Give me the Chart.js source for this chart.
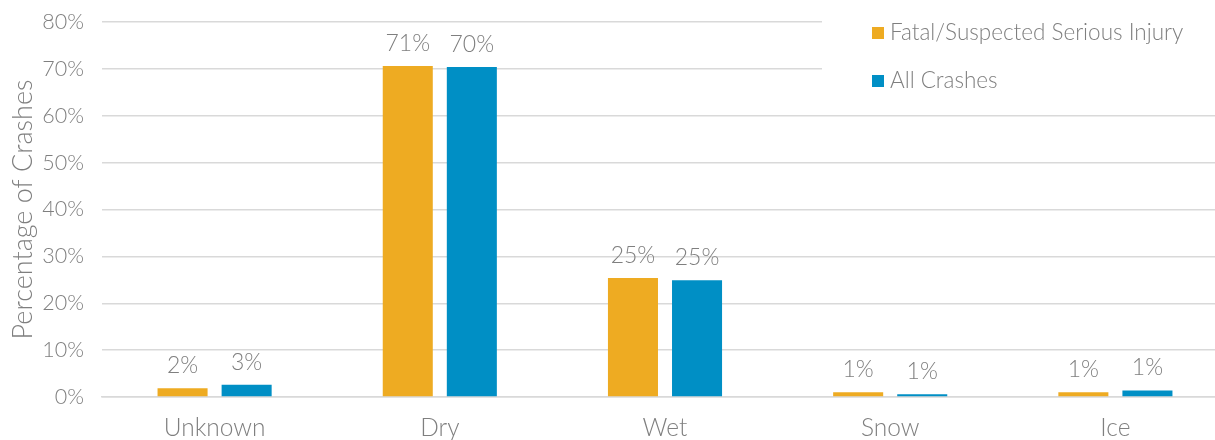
<!DOCTYPE html>
<html lang="en">

<head>
    <meta charset="UTF-8" />
    <title>Road Surface Condition</title>
    <script src="https://cdn.jsdelivr.net/npm/chart.js"></script>
    <style>
        body { margin: 0; background: #fff; }
        #wrap { width: 1215px; height: 440px; overflow: hidden; }
    </style>
</head>

<body>
    <div id="wrap">
        <canvas id="surfaceChart" width="1228" height="440"></canvas>
    </div>

    <script>
        const conditions = ['Unknown', 'Dry', 'Wet', 'Snow', 'Ice'];
        const fatalSerious = [1.85, 70.6, 25.4, 1.0, 1.0];
        const allCrashes = [2.6, 70.4, 24.9, 0.6, 1.4];
        const yTicks = [0, 10, 20, 30, 40, 50, 60, 70, 80];

        const textGray = '#7f7f7f';
        const fontFamily = 'Lato, "DejaVu Sans", sans-serif';

        // percentage labels above each bar
        const barLabels = {
            id: 'barLabels',
            afterDatasetsDraw(chart) {
                const ctx = chart.ctx;
                ctx.save();
                ctx.fillStyle = textGray;
                ctx.font = '300 23px ' + fontFamily;
                ctx.textAlign = 'center';
                ctx.textBaseline = 'alphabetic';
                chart.data.datasets.forEach((ds, i) => {
                    chart.getDatasetMeta(i).data.forEach((bar, j) => {
                        ctx.fillText(Math.round(ds.data[j]) + '%', bar.x, bar.y - 15);
                    });
                });
                ctx.restore();
            }
        };

        // legend box in the top right corner, on white so the grid is hidden behind it
        const cornerLegend = {
            id: 'cornerLegend',
            afterDraw(chart) {
                const ctx = chart.ctx;
                ctx.save();
                ctx.fillStyle = '#fff';
                ctx.fillRect(822, 8, 420, 92);
                ctx.font = '300 22.5px ' + fontFamily;
                ctx.textBaseline = 'middle';
                chart.data.datasets.forEach((ds, i) => {
                    const y = 33 + i * 48;
                    ctx.fillStyle = ds.backgroundColor;
                    ctx.fillRect(872, y - 6, 12, 12);
                    ctx.fillStyle = textGray;
                    ctx.fillText(ds.label, 890, y);
                });
                ctx.restore();
            }
        };

        const ctx = document.getElementById('surfaceChart').getContext('2d');

        new Chart(ctx, {
            type: 'bar',
            data: {
                labels: conditions,
                datasets: [{
                    label: 'Fatal/Suspected Serious Injury',
                    data: fatalSerious,
                    backgroundColor: '#EEAB22'
                }, {
                    label: 'All Crashes',
                    data: allCrashes,
                    backgroundColor: '#008FC5'
                }]
            },
            options: {
                responsive: false,
                animation: false,
                categoryPercentage: 0.569,
                barPercentage: 0.781,
                layout: {
                    padding: { top: 22, right: 0, left: 0, bottom: 0 }
                },
                plugins: {
                    legend: { display: false },
                    tooltip: { enabled: false }
                },
                scales: {
                    x: {
                        grid: { display: false },
                        border: { color: '#d9d9d9', width: 1.5 },
                        ticks: {
                            color: textGray,
                            font: { family: fontFamily, size: 24.5, weight: 300 },
                            padding: 8
                        },
                        afterFit(scale) {
                            scale.height = 43;
                            scale.paddingLeft = 0;
                            scale.paddingRight = 0;
                        }
                    },
                    y: {
                        min: 0,
                        max: 80,
                        afterBuildTicks(scale) {
                            scale.ticks = yTicks.map(v => ({ value: v }));
                        },
                        grid: { color: '#d9d9d9', lineWidth: 1.5, drawTicks: false },
                        border: { display: false },
                        ticks: {
                            color: textGray,
                            font: { family: fontFamily, size: 21.5, weight: 300 },
                            padding: 18,
                            callback: v => v + '%'
                        },
                        title: {
                            display: true,
                            text: 'Percentage of Crashes',
                            color: textGray,
                            font: { family: fontFamily, size: 27, weight: 300 },
                            padding: { top: 7, bottom: 0 }
                        },
                        afterFit(scale) {
                            scale.width = 102;
                            scale.paddingTop = 0;
                            scale.paddingBottom = 0;
                        }
                    }
                }
            },
            plugins: [barLabels, cornerLegend]
        });
    </script>
</body>

</html>
